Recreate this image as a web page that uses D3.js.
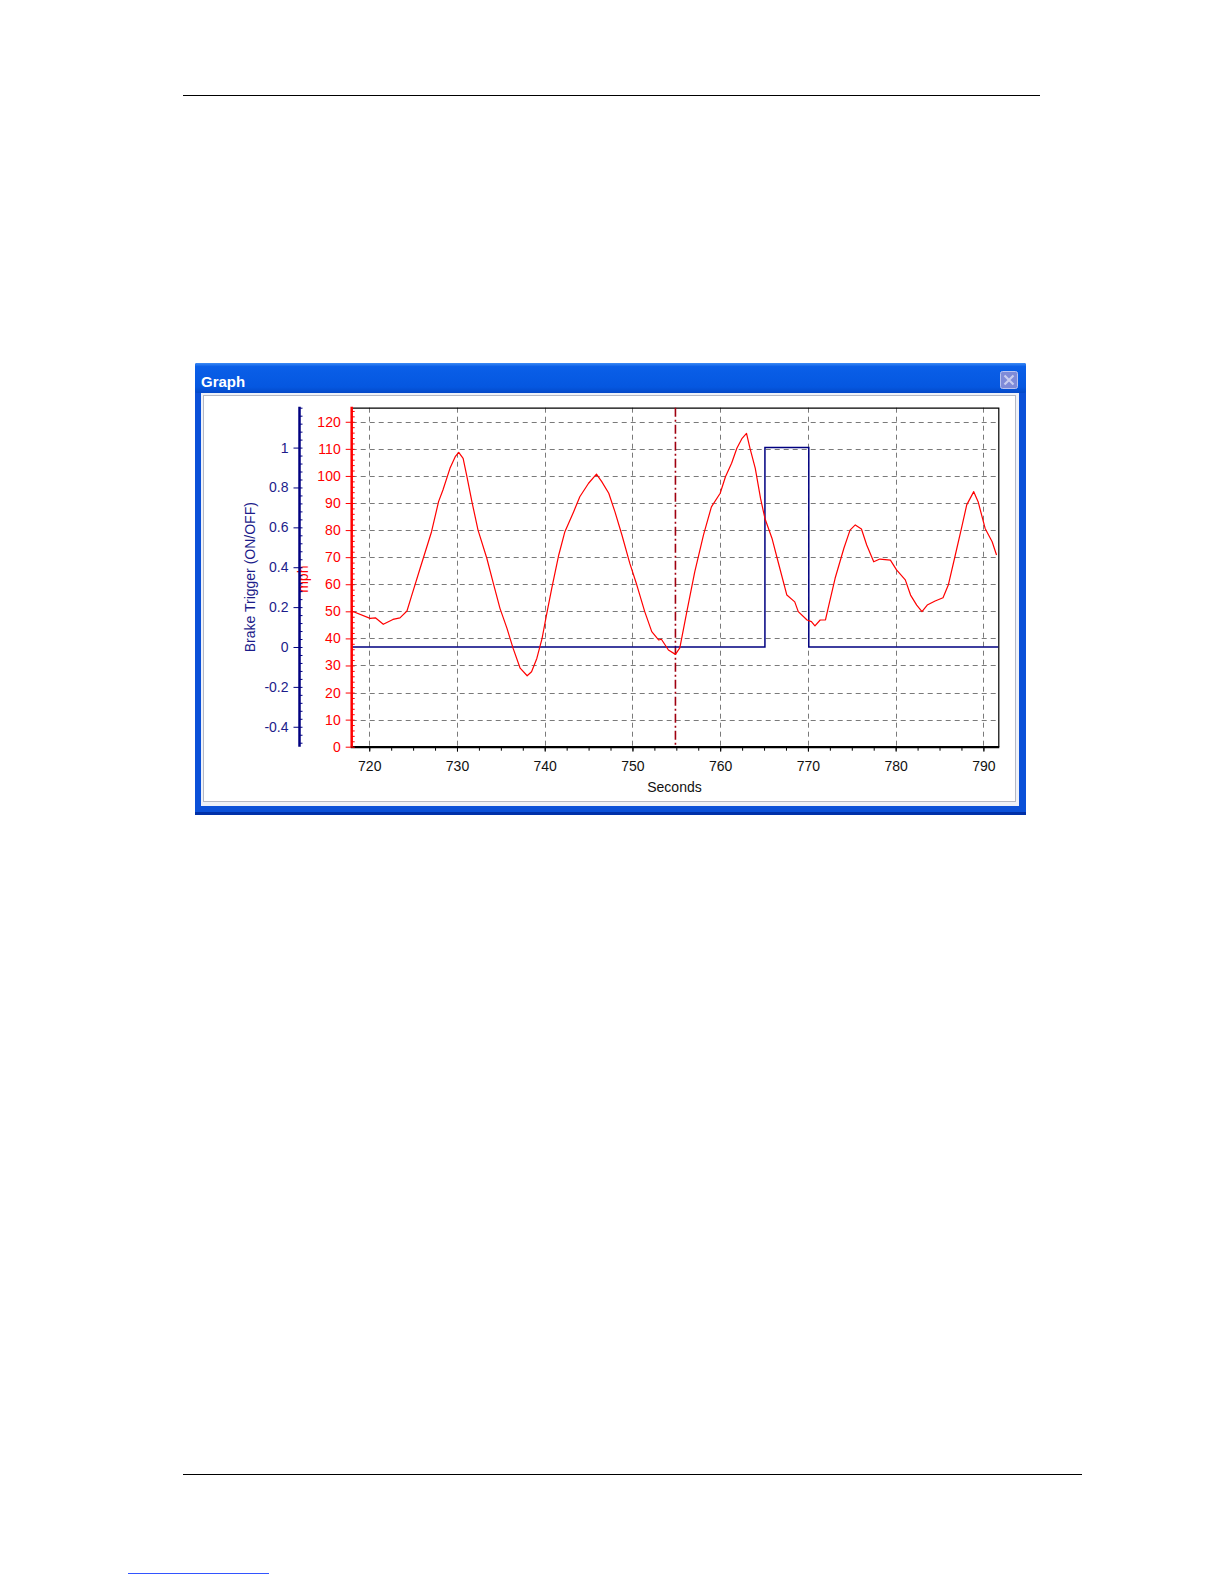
<!DOCTYPE html>
<html><head><meta charset="utf-8">
<script src="https://cdn.jsdelivr.net/npm/d3@7"></script>
<style>body{margin:0;background:#fff}svg{display:block}</style>
</head><body>
<svg id="c" width="1224" height="1584"></svg>
<script>
// ---- data ----
const speedTimes = [718.0,720.1,720.7,721.6,722.7,723.5,724.3,724.8,725.8,727.1,727.9,728.4,729.2,729.8,730.2,730.7,731.1,731.7,732.4,733.4,734.1,734.9,735.7,736.4,737.2,738.0,738.5,739.1,739.7,740.2,740.8,741.6,742.3,743.3,744.0,745.0,745.9,746.5,747.3,748.0,748.8,749.7,750.5,751.4,752.2,753.0,753.3,754.1,754.9,755.4,756.2,757.1,758.1,759.0,760.0,760.6,761.3,761.9,762.5,763.0,763.4,764.0,764.6,765.1,765.9,766.6,767.6,768.5,768.9,769.9,770.4,770.8,771.4,772.0,772.3,773.1,774.1,774.8,775.4,776.1,776.7,777.5,778.2,779.4,780.1,781.1,781.7,782.4,783.0,783.6,784.5,785.4,786.0,786.8,787.5,788.1,788.9,789.4,790.2,791.0,791.5];
const speedValues = [50.1,47.4,47.6,45.2,47.0,47.6,50.1,55.4,65.9,79.4,90.5,94.8,102.8,107.1,108.7,106.5,100.3,90.5,80.0,69.6,60.9,51.1,43.7,36.3,29.0,26.2,27.7,32.6,40.0,48.6,58.5,70.8,79.4,86.8,92.3,97.3,100.7,97.9,93.6,86.8,78.2,67.7,59.7,49.9,42.5,39.4,39.7,35.7,34.1,36.5,49.9,64.6,78.2,88.6,93.6,99.7,104.7,110.2,113.9,115.7,110.2,102.8,91.7,84.3,77.0,68.3,56.0,53.5,49.9,46.8,46.2,44.6,46.8,46.8,51.1,62.2,73.3,80.0,81.9,80.4,74.5,68.3,69.3,68.9,65.3,61.6,56.0,52.3,49.9,52.3,53.8,55.0,59.7,70.8,80.6,89.3,94.2,90.5,80.6,75.7,70.8];
const brakeTimes = [718, 765.1, 770.1, 791.7];
const brakeValues = [0, 1, 0, 0];
const cursorTime = 754.9;
const xDomain = [718, 791.7];
const speedDomain = [0, 125.2];
const brakeDomain = [-0.5, 1.2];
const xTicks = [720,730,740,750,760,770,780,790];
const speedTicks = [0,10,20,30,40,50,60,70,80,90,100,110,120];
const brakeTicks = [-0.4,-0.2,0,0.2,0.4,0.6,0.8,1];
const windowTitle = "Graph";
const xTitle = "Seconds";
const speedTitle = "mph";
const brakeTitle = "Brake Trigger (ON/OFF)";

// ---- drawing ----
const svg = d3.select("#c");
const FONT = "'Liberation Sans', Arial, sans-serif";
const RED = "#ff0000", NAVY = "#000080";

// page rules
svg.append("line").attr("x1",183).attr("x2",1040).attr("y1",95.5).attr("y2",95.5).attr("stroke","#000").attr("stroke-width",1);
svg.append("line").attr("x1",183).attr("x2",1082).attr("y1",1474.5).attr("y2",1474.5).attr("stroke","#000").attr("stroke-width",1);
svg.append("line").attr("x1",128).attr("x2",269).attr("y1",1573.5).attr("y2",1573.5).attr("stroke","#3355ff").attr("stroke-width",1);

// window
const defs = svg.append("defs");
const g1 = defs.append("linearGradient").attr("id","tb").attr("x1",0).attr("y1",0).attr("x2",0).attr("y2",1);
[["0%","#3d8bf5"],["12%","#0a5fe8"],["80%","#0557e0"],["100%","#0348c8"]].forEach(s=>g1.append("stop").attr("offset",s[0]).attr("stop-color",s[1]));
svg.append("rect").attr("x",195).attr("y",363).attr("width",831).attr("height",452).attr("rx",2).attr("fill","#0b50d8");
svg.append("rect").attr("x",195).attr("y",363).attr("width",831).attr("height",30).attr("rx",2).attr("fill","url(#tb)");
svg.append("rect").attr("x",195).attr("y",812).attr("width",831).attr("height",3).attr("fill","#0030a8");
svg.append("rect").attr("x",201).attr("y",393).attr("width",818).attr("height",413).attr("fill","#eef1f8");
svg.append("rect").attr("x",203.5).attr("y",395.5).attr("width",812).attr("height",406).attr("fill","#fff").attr("stroke","#b4b8c4");
svg.append("text").attr("x",201).attr("y",387).attr("font-family",FONT).attr("font-weight","bold").attr("font-size",15).attr("fill","#fff").text(windowTitle);
// close button
svg.append("rect").attr("x",1000.5).attr("y",371.5).attr("width",17).attr("height",17).attr("rx",2).attr("fill","#7f8bd8").attr("stroke","#b9c2f0");
svg.append("path").attr("d","M1004.5,375.5 L1013.5,384.5 M1013.5,375.5 L1004.5,384.5").attr("stroke","#c9cdf0").attr("stroke-width",2.2);

// scales
const x = d3.scaleLinear().domain(xDomain).range([351.7, 998.3]);
const yS = d3.scaleLinear().domain(speedDomain).range([746.7, 407.7]);
const yB = d3.scaleLinear().domain(brakeDomain).range([746.7, 407.7]);
const L = x.range()[0], R = x.range()[1], T = yS.range()[1], B = yS.range()[0];

// grid
const grid = svg.append("g").attr("stroke","#7a7a7a").attr("stroke-width",1).attr("stroke-dasharray","5,4");
xTicks.forEach(t=>grid.append("line").attr("x1",Math.round(x(t))+0.5).attr("x2",Math.round(x(t))+0.5).attr("y1",T).attr("y2",B));
speedTicks.filter(v=>v>0).forEach(v=>grid.append("line").attr("x1",L).attr("x2",R).attr("y1",Math.round(yS(v))+0.5).attr("y2",Math.round(yS(v))+0.5));

// frame top/right
svg.append("path").attr("d",`M${L},${T+0.5} H${R+0.5} V${B}`).attr("fill","none").attr("stroke","#000").attr("stroke-width",1.2);

// cursor
svg.append("line").attr("x1",x(cursorTime)).attr("x2",x(cursorTime)).attr("y1",T).attr("y2",B)
  .attr("stroke","#a00010").attr("stroke-width",1.6).attr("stroke-dasharray","9,3,2,3");

// brake step line
const lineB = d3.line().x((d,i)=>x(brakeTimes[i])).y((d,i)=>yB(brakeValues[i])).curve(d3.curveStepAfter);
svg.append("path").datum(brakeValues).attr("d",lineB).attr("fill","none").attr("stroke",NAVY).attr("stroke-width",1.5);

// speed line
const lineS = d3.line().x((d,i)=>x(speedTimes[i])).y((d,i)=>yS(speedValues[i]));
svg.append("path").datum(speedValues).attr("d",lineS).attr("fill","none").attr("stroke",RED).attr("stroke-width",1.2).attr("stroke-linejoin","round");

function minorList(ticks, step, sub, lo, hi){
  const out=[]; const d=step/sub;
  for(let k=-sub; k<=(ticks.length)*sub; k++){ const v=+(ticks[0]+k*d).toFixed(4); if(v>=lo-1e-9 && v<=hi+1e-9) out.push(v); }
  return out;
}
const fmt = d => String(+d.toFixed(2));

// x axis
const gxm = svg.append("g").attr("transform",`translate(0,${B})`)
  .call(d3.axisBottom(x).tickValues(minorList(xTicks,10,4,xDomain[0],xDomain[1])).tickSize(4).tickFormat("").tickSizeOuter(0));
gxm.select(".domain").remove();
const gx = svg.append("g").attr("transform",`translate(0,${B})`)
  .call(d3.axisBottom(x).tickValues(xTicks).tickSize(5).tickPadding(9).tickSizeOuter(0));
gx.select(".domain").remove();
gxm.selectAll("line").attr("stroke","#000");
gx.selectAll("line").attr("stroke","#000");
gx.append("line").attr("x1",L-1).attr("x2",R+1).attr("y1",0.5).attr("y2",0.5).attr("stroke","#000").attr("stroke-width",2.2);
gx.selectAll("text").attr("font-family",FONT).attr("font-size",14).attr("fill","#111");
svg.append("text").attr("x",(L+R)/2 - 0.5).attr("y",791.5).attr("text-anchor","middle").attr("font-family",FONT).attr("font-size",14).attr("fill","#111").text(xTitle);

// speed axis (red)
const gsm = svg.append("g").attr("transform",`translate(${L},0)`)
  .call(d3.axisRight(yS).tickValues(minorList(speedTicks,10,5,0,speedDomain[1])).tickSize(3).tickFormat("").tickSizeOuter(0));
gsm.select(".domain").remove();
gsm.selectAll("line").attr("stroke",RED);
const gs = svg.append("g").attr("transform",`translate(${L},0)`)
  .call(d3.axisLeft(yS).tickValues(speedTicks).tickSize(6).tickPadding(5).tickSizeOuter(0).tickFormat(fmt));
gs.select(".domain").remove();
gs.selectAll("line").attr("stroke",RED);
gs.append("line").attr("x1",0).attr("x2",0).attr("y1",T-1).attr("y2",B).attr("stroke",RED).attr("stroke-width",2.5);
gs.selectAll("text").attr("font-family",FONT).attr("font-size",14).attr("fill",RED);
svg.append("text").attr("transform",`translate(308,${(T+B)/2 + 2}) rotate(-90)`).attr("text-anchor","middle").attr("font-family",FONT).attr("font-size",14).attr("fill",RED).text(speedTitle);

// brake axis (navy)
const AX = 299.5;
const gbm = svg.append("g").attr("transform",`translate(${AX},0)`)
  .call(d3.axisRight(yB).tickValues(minorList(brakeTicks,0.2,5,brakeDomain[0],brakeDomain[1])).tickSize(3).tickFormat("").tickSizeOuter(0));
gbm.select(".domain").remove();
gbm.selectAll("line").attr("stroke",NAVY);
const gb = svg.append("g").attr("transform",`translate(${AX},0)`)
  .call(d3.axisLeft(yB).tickValues(brakeTicks).tickSize(6).tickPadding(5).tickSizeOuter(0).tickFormat(fmt));
gb.select(".domain").remove();
gb.selectAll("line").attr("stroke",NAVY);
gb.append("line").attr("x1",0).attr("x2",0).attr("y1",T-1).attr("y2",B).attr("stroke",NAVY).attr("stroke-width",2.5);
gb.selectAll("text").attr("font-family",FONT).attr("font-size",14).attr("fill","#1c1c8a");
svg.append("text").attr("transform",`translate(255,${(T+B)/2}) rotate(-90)`).attr("text-anchor","middle").attr("font-family",FONT).attr("font-size",14).attr("fill","#1c1c8a").text(brakeTitle);
</script>
</body></html>
